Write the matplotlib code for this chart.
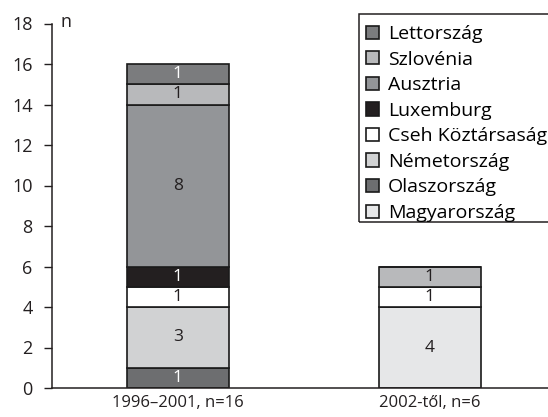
import matplotlib
matplotlib.use("Agg")
import matplotlib.pyplot as plt
from matplotlib.patches import Patch, Rectangle
import numpy as np

plt.rcParams['font.family'] = ['Open Sans', 'DejaVu Sans']

# data
categories = ['1996\u20132001, n=16', '2002-t\u0151l, n=6']
# stacking order, bottom to top
countries = ['Magyarorsz\u00e1g', 'Olaszorsz\u00e1g', 'N\u00e9metorsz\u00e1g', 'Cseh K\u00f6zt\u00e1rsas\u00e1g',
             'Luxemburg', 'Ausztria', 'Szlov\u00e9nia', 'Lettorsz\u00e1g']
values = {
    'Magyarorsz\u00e1g':        [0, 4],
    'Olaszorsz\u00e1g':         [1, 0],
    'N\u00e9metorsz\u00e1g':         [3, 0],
    'Cseh K\u00f6zt\u00e1rsas\u00e1g':   [1, 1],
    'Luxemburg':           [1, 0],
    'Ausztria':            [8, 0],
    'Szlov\u00e9nia':           [1, 1],
    'Lettorsz\u00e1g':          [1, 0],
}
colors = {
    'Magyarorsz\u00e1g': '#e6e7e8',
    'Olaszorsz\u00e1g': '#6d6e70',
    'N\u00e9metorsz\u00e1g': '#d1d2d3',
    'Cseh K\u00f6zt\u00e1rsas\u00e1g': '#ffffff',
    'Luxemburg': '#231f20',
    'Ausztria': '#939598',
    'Szlov\u00e9nia': '#b8b9bb',
    'Lettorsz\u00e1g': '#7b7c7e',
}
white_text = ['Olaszorsz\u00e1g', 'Luxemburg', 'Lettorsz\u00e1g']

W, H = 548, 417
fig = plt.figure(figsize=(W / 100, H / 100), dpi=100)
ax = fig.add_axes([52 / W, 29 / H, 1 - 52 / W, 364.5 / H])

x = np.arange(len(categories))
bottom = np.zeros(len(categories))
for c in countries:
    v = np.array(values[c], dtype=float)
    ax.bar(x, v, 0.405, bottom=bottom, color=colors[c], edgecolor='#1a1a1a', linewidth=1.2)
    for i in range(len(x)):
        if v[i] > 0:
            ax.text(x[i], bottom[i] + v[i] / 2, '%d' % v[i], ha='center', va='center', fontsize=12.5,
                    color='white' if c in white_text else '#231f20')
    bottom += v

ax.set_xlim(-0.5, 1.47)
ax.set_ylim(0, 18)
ax.set_yticks(np.arange(0, 19, 2))
ax.set_xticks(x)
ax.set_xticklabels(categories, fontsize=12, color='#231f20')
ax.tick_params(axis='y', labelsize=13, colors='#231f20', length=6, width=1, pad=8)
ax.tick_params(axis='x', length=0, pad=5)
for s in ['top', 'right']:
    ax.spines[s].set_visible(False)
for s in ['left', 'bottom']:
    ax.spines[s].set_linewidth(1.1)
    ax.spines[s].set_color('#231f20')
fig.text(60 / W, 1 - 22 / H, 'n', fontsize=13, color='#231f20', va='center')

# legend, top to bottom; frame drawn separately so the padding can be uneven
handles = [Patch(facecolor=colors[c], edgecolor='#1a1a1a', linewidth=1.2, label=c) for c in countries[::-1]]
leg = fig.legend(handles=handles, loc='upper left', bbox_to_anchor=(366 / W, 1 - 25 / H),
                 fontsize=14, frameon=False, handlelength=0.68, handleheight=0.68,
                 handletextpad=0.45, labelspacing=0.39, borderpad=0, borderaxespad=0)
fig.add_artist(Rectangle((359 / W, 1 - 222 / H), 1, (222 - 14) / H, transform=fig.transFigure,
                         facecolor='none', edgecolor='#231f20', linewidth=1.1))

fig.savefig('out.png', dpi=100)
